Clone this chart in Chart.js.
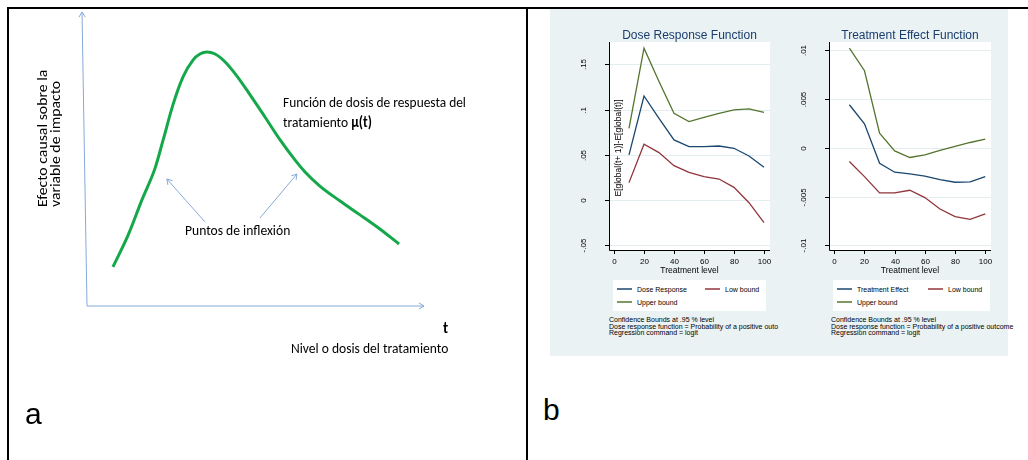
<!DOCTYPE html>
<html>
<head>
<meta charset="utf-8">
<script src="https://cdn.jsdelivr.net/npm/chart.js@4.4.1/dist/chart.umd.min.js"></script>
<style>
  body { margin: 0; width: 1028px; height: 460px; background: #fff; position: relative; overflow: hidden; }
  .abs { position: absolute; }
  .rule { position: absolute; background: #000; }
  .calib { font-family: "Carlito", "Lato", sans-serif; font-size: 15px; line-height: 1; color: #000; white-space: nowrap; transform-origin: 0 0; }
  .stata { font-family: "Liberation Sans", Arial, sans-serif; color: #000; white-space: nowrap; }
  .panel-letter { font-family: "Liberation Sans", Arial, sans-serif; font-size: 30px; line-height: 1; }
  .legend { position: absolute; background: #fff; top: 280px; height: 31px; }
  .key { position: absolute; height: 2px; width: 15px; }
  .ktxt { position: absolute; font-size: 7px; line-height: 7px; }
  .notes { position: absolute; top: 317px; font-size: 7px; line-height: 6.7px; }
</style>
</head>
<body>
<!-- frame -->
<div class="rule" style="left:7px;top:7px;width:1021px;height:2px"></div>
<div class="rule" style="left:7px;top:7px;width:2px;height:453px"></div>
<div class="rule" style="left:526px;top:7px;width:2px;height:453px"></div>

<!-- panel a -->
<canvas id="schema" class="abs" style="left:9px;top:9px" width="517" height="451"></canvas>
<div class="calib abs" style="left:283px;top:95px" data-w="183">Función de dosis de respuesta del</div>
<div class="calib abs" style="left:283px;top:114.7px" data-w="89">tratamiento <b>μ(t)</b></div>
<div class="calib abs" style="left:185px;top:222.7px" data-w="105">Puntos de inflexión</div>
<div class="calib abs" style="left:443px;top:320.7px"><b>t</b></div>
<div class="calib abs" style="left:291px;top:340.7px" data-w="157">Nivel o dosis del tratamiento</div>
<div class="calib abs" style="left:35px;top:207px" data-w="137" data-rot="1">Efecto causal sobre la</div>
<div class="calib abs" style="left:48.4px;top:207px" data-w="126" data-rot="1">variable de impacto</div>
<div class="panel-letter abs" style="left:25px;top:399px">a</div>

<!-- panel b -->
<div class="abs" style="left:550px;top:9px;width:458px;height:347px;background:#eaf2f3"></div>
<canvas id="doseChart" class="abs" style="left:555px;top:20px" width="225" height="260"></canvas>
<canvas id="effectChart" class="abs" style="left:780px;top:20px" width="225" height="260"></canvas>

<div class="legend stata" style="left:613px;width:153px"></div>
<div class="legend stata" style="left:833px;width:157px"></div>
<div class="stata" id="legendText"></div>

<div class="notes stata" style="left:609px">Confidence Bounds at .95 % level<br>Dose response function = Probability of a positive outo<br>Regression command = logit</div>
<div class="notes stata" style="left:831px">Confidence Bounds at .95 % level<br>Dose response function = Probability of a positive outcome<br>Regression command = logit</div>
<div class="panel-letter abs" style="left:543px;top:395px">b</div>

<script>
// ---- panel a: schematic curve (arbitrary units, 0-100 on both axes) ----
const schemaDose = [7.7, 12.2, 16.3, 20.2, 22.6, 25.5, 28.5, 31.5, 33.5, 35.6, 38.0, 41.0, 44.5, 48.4, 52.8, 57.3, 61.7, 64.7, 69.1, 75.1, 81.0, 86.9, 92.6];
const schemaEffect = [13.3, 24.1, 36.1, 46.9, 56.5, 68.4, 77.9, 83.7, 85.7, 86.4, 85.7, 83.0, 78.2, 71.8, 64.3, 56.5, 49.7, 45.6, 40.8, 35.7, 31.0, 26.2, 21.1];
// arrows pointing at the inflection points: [tailX, tailY, headX, headY]
const inflexionArrows = [[35.0, 28.6, 23.7, 43.2], [51.3, 29.9, 62.3, 44.9]];

// ---- panel b: Stata output ----
const treatLevels = [10, 20, 30, 40, 50, 60, 70, 80, 90, 100];
const doseResponse = [0.0498, 0.1150, 0.0903, 0.0664, 0.0590, 0.0590, 0.0597, 0.0572, 0.0487, 0.0362];
const doseLow = [0.0192, 0.0616, 0.0524, 0.0380, 0.0306, 0.0258, 0.0232, 0.0140, -0.0030, -0.0251];
const doseUpper = [0.0793, 0.1678, 0.1310, 0.0959, 0.0867, 0.0914, 0.0959, 0.0996, 0.1007, 0.0970];
const effResponse = [0.00442, 0.00247, -0.00158, -0.00250, -0.00267, -0.00291, -0.00325, -0.00353, -0.00349, -0.00295];
const effLow = [-0.00140, -0.00295, -0.00462, -0.00462, -0.00435, -0.00510, -0.00627, -0.00705, -0.00733, -0.00678];
const effUpper = [0.01024, 0.00791, 0.00151, -0.00031, -0.00099, -0.00072, -0.00027, 0.00014, 0.00055, 0.00089];
const xTicks = [0, 20, 40, 60, 80, 100];
const doseTicks = [-0.05, 0, 0.05, 0.1, 0.15];
const doseTickLabels = ['-.05', '0', '.05', '.1', '.15'];
const effTicks = [-0.01, -0.005, 0, 0.005, 0.01];
const effTickLabels = ['-.01', '-.005', '0', '.005', '.01'];

const NAVY = '#1a476f', MAROON = '#90353b', FOREST = '#55752f';
const STATA_FONT = '"Liberation Sans", Arial, sans-serif';

function arrow(ctx, x0, y0, x1, y1) {
  const ang = Math.atan2(y1 - y0, x1 - x0), h = 6;
  ctx.beginPath();
  ctx.moveTo(x0, y0);
  ctx.lineTo(x1, y1);
  ctx.moveTo(x1 - h * Math.cos(ang - 0.55), y1 - h * Math.sin(ang - 0.55));
  ctx.lineTo(x1, y1);
  ctx.lineTo(x1 - h * Math.cos(ang + 0.55), y1 - h * Math.sin(ang + 0.55));
  ctx.stroke();
}

const schemaAxes = {
  id: 'schemaAxes',
  beforeDatasetsDraw(chart) {
    const { ctx, chartArea: a, scales: { x, y } } = chart;
    ctx.save();
    ctx.strokeStyle = '#86a9da';
    ctx.lineWidth = 1;
    arrow(ctx, a.left, a.bottom, a.left - 5, a.top);   // hand drawn y axis leans a little
    arrow(ctx, a.left, a.bottom, a.right, a.bottom);
    inflexionArrows.forEach(r => {
      arrow(ctx, x.getPixelForValue(r[0]), y.getPixelForValue(r[1]), x.getPixelForValue(r[2]), y.getPixelForValue(r[3]));
    });
    ctx.restore();
  }
};

new Chart(document.getElementById('schema'), {
  type: 'line',
  data: {
    datasets: [{
      data: schemaDose.map((d, i) => ({ x: d, y: schemaEffect[i] })),
      borderColor: '#14a84b', borderWidth: 3, pointRadius: 0,
      cubicInterpolationMode: 'monotone'
    }]
  },
  options: {
    responsive: false, animation: false,
    layout: { padding: { left: 78, top: 3, right: 102, bottom: 154 } },
    scales: {
      x: { type: 'linear', display: false, min: 0, max: 100 },
      y: { display: false, min: 0, max: 100 }
    },
    plugins: { legend: { display: false }, tooltip: { enabled: false } }
  },
  plugins: [schemaAxes]
});

// Stata-like axes, grid and titles drawn from the chart's own scales
const stataFrame = {
  id: 'stataFrame',
  beforeDatasetsDraw(chart, args, o) {
    const { ctx, chartArea: a, scales: { x, y } } = chart;
    ctx.save();
    ctx.fillStyle = '#fff';
    ctx.fillRect(a.left, a.top, a.width, a.height);
    ctx.strokeStyle = '#e4eef0';
    ctx.lineWidth = 1;
    o.yTicks.forEach(t => {
      const py = Math.round(y.getPixelForValue(t)) + 0.5;
      ctx.beginPath(); ctx.moveTo(a.left, py); ctx.lineTo(a.right, py); ctx.stroke();
    });
    ctx.strokeStyle = '#000';
    ctx.beginPath();
    ctx.moveTo(a.left + 0.5, a.top); ctx.lineTo(a.left + 0.5, a.bottom + 0.5); ctx.lineTo(a.right, a.bottom + 0.5);
    ctx.stroke();
    ctx.fillStyle = '#000';
    ctx.font = '8px ' + STATA_FONT;
    ctx.textAlign = 'center';
    ctx.textBaseline = 'middle';
    o.yTicks.forEach((t, i) => {
      const py = Math.round(y.getPixelForValue(t)) + 0.5;
      ctx.beginPath(); ctx.moveTo(a.left - 4, py); ctx.lineTo(a.left, py); ctx.stroke();
      ctx.save();
      ctx.translate(a.left - 25, py);
      ctx.rotate(-Math.PI / 2);
      ctx.fillText(o.yLabels[i], 0, 0);
      ctx.restore();
    });
    xTicks.forEach(t => {
      const px = Math.round(x.getPixelForValue(t)) + 0.5;
      ctx.beginPath(); ctx.moveTo(px, a.bottom); ctx.lineTo(px, a.bottom + 4); ctx.stroke();
      ctx.fillText(String(t), px, a.bottom + 11.5);
    });
    const cx = (a.left + a.right) / 2;
    ctx.font = '8.5px ' + STATA_FONT;
    ctx.fillText('Treatment level', cx, a.bottom + 20.5);
    if (o.yTitle) {
      ctx.save();
      ctx.translate(a.left + 9.5, (a.top + a.bottom) / 2 + 2);
      ctx.rotate(-Math.PI / 2);
      ctx.fillText(o.yTitle, 0, 0);
      ctx.restore();
    }
    ctx.fillStyle = '#1a3d6e';
    ctx.font = '12px ' + STATA_FONT;
    ctx.textBaseline = 'alphabetic';
    ctx.fillText(o.title, cx, a.top - 3.5);
    ctx.restore();
  }
};

function stataChart(id, title, yTitle, mid, low, up, yTicks, yLabels, yRange, xRange, pad) {
  return new Chart(document.getElementById(id), {
    type: 'line',
    data: {
      labels: treatLevels,
      datasets: [
        { data: treatLevels.map((t, i) => ({ x: t, y: mid[i] })), borderColor: NAVY },
        { data: treatLevels.map((t, i) => ({ x: t, y: low[i] })), borderColor: MAROON },
        { data: treatLevels.map((t, i) => ({ x: t, y: up[i] })), borderColor: FOREST }
      ]
    },
    options: {
      responsive: false, animation: false,
      elements: { point: { radius: 0 }, line: { borderWidth: 1.3, tension: 0 } },
      layout: { padding: pad },
      scales: {
        x: { type: 'linear', display: false, min: xRange[0], max: xRange[1] },
        y: { display: false, min: yRange[0], max: yRange[1] }
      },
      plugins: {
        legend: { display: false }, tooltip: { enabled: false },
        stataFrame: { title, yTitle, yTicks, yLabels }
      }
    },
    plugins: [stataFrame]
  });
}

stataChart('doseChart', 'Dose Response Function', 'E[global(t+ 1)]-E[global(t)]',
  doseResponse, doseLow, doseUpper, doseTicks, doseTickLabels,
  [-0.0553, 0.1747], [-3.33, 104], { left: 54, top: 22, right: 10, bottom: 30 });
stataChart('effectChart', 'Treatment Effect Function', '',
  effResponse, effLow, effUpper, effTicks, effTickLabels,
  [-0.01048, 0.01086], [-3.5, 103.8], { left: 49, top: 22, right: 14, bottom: 30 });

// legend keys (Stata legend boxes)
const legendItems = [
  [617, 289, NAVY, 'Dose Response'], [705, 289, MAROON, 'Low bound'], [617, 302, FOREST, 'Upper bound'],
  [837, 289, NAVY, 'Treatment Effect'], [928, 289, MAROON, 'Low bound'], [837, 302, FOREST, 'Upper bound']
];
const lt = document.getElementById('legendText');
legendItems.forEach(([lx, ly, col, txt]) => {
  const k = document.createElement('div');
  k.className = 'key';
  k.style.cssText = `left:${lx}px;top:${ly - 1}px;background:${col};opacity:0.75`;
  lt.appendChild(k);
  const s = document.createElement('div');
  s.className = 'ktxt';
  s.style.cssText = `left:${lx + 20}px;top:${ly - 3.5}px`;
  s.textContent = txt;
  lt.appendChild(s);
});

// squeeze panel-a captions to the widths they have in the picture
document.querySelectorAll('[data-w]').forEach(el => {
  const f = +el.dataset.w / el.offsetWidth;
  el.style.transform = (el.dataset.rot ? 'rotate(-90deg) ' : '') + `scaleX(${f})`;
});
</script>
</body>
</html>
